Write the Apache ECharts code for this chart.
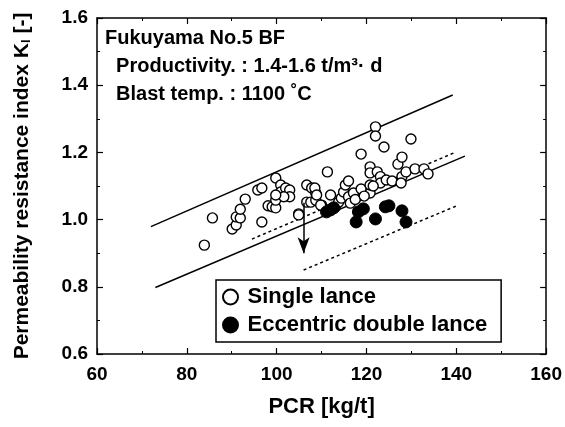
<!DOCTYPE html>
<html>
<head>
<meta charset="utf-8">
<script src="https://cdn.jsdelivr.net/npm/echarts@6/dist/echarts.min.js"></script>
<style>
html,body{margin:0;padding:0;background:#fff;}
#main{width:565px;height:427px;}
</style>
</head>
<body>
<div id="main"></div>
<script>
// 数据：PCR [kg/t] 与 透气阻力指数 Kl
var singleLance = [
  [83.9,0.924],[85.7,1.005],[90.1,0.972],[91.0,0.984],[91.0,1.008],[91.9,1.005],
  [91.9,1.031],[93.0,1.061],[95.8,1.088],[96.7,1.094],[96.7,0.993],[98.1,1.041],
  [99.0,1.038],[99.8,1.035],[99.8,1.058],[99.8,1.124],[100.9,1.103],[100.9,1.082],
  [102.0,1.094],[102.9,1.088],[102.9,1.068],[101.6,1.068],[99.8,1.073],[104.9,1.017],
  [106.7,1.103],[106.7,1.052],[107.8,1.094],[108.7,1.079],[107.6,1.052],[108.7,1.058],
  [110.0,1.043],[111.3,1.142],[108.5,1.094],[108.9,1.073],[109.8,1.043],[112.0,1.073],
  [113.1,1.038],[113.8,1.052],[114.4,1.064],[114.9,1.082],[115.3,1.103],[116.0,1.115],
  [116.0,1.068],[116.4,1.049],[117.1,1.079],[118.8,1.091],[120.8,1.079],[120.8,1.103],
  [118.8,1.195],[120.8,1.157],[120.8,1.139],[122.0,1.276],[122.0,1.249],[122.4,1.142],
  [123.1,1.128],[123.1,1.109],[123.9,1.216],[124.4,1.118],[125.7,1.115],[127.0,1.165],
  [127.9,1.186],[127.9,1.128],[127.7,1.109],[128.8,1.142],[129.9,1.240],[130.8,1.151],
  [132.8,1.151],[133.7,1.136],[117.5,1.060],[119.5,1.070],[121.5,1.100],[104.9,1.014]
];
var doubleLance = [
  [111.1,1.023],[112.0,1.029],[112.7,1.035],[118.2,1.023],[119.3,1.032],[117.7,0.993],
  [122.0,1.002],[124.2,1.038],[125.0,1.041],[127.9,1.026],[128.8,0.993]
];
// 界限线
var upperSolid = [[72,0.979],[139.2,1.371]];
var lowerSolid = [[73,0.798],[141.9,1.189]];
var upperDotted = [[94.5,0.942],[139.9,1.201]];
var lowerDotted = [[106,0.85],[139.9,1.04]];
var arrowFrom = [106,1.05];
var arrowTo = [106,0.90];

var xTicks = {min:60,max:160,interval:20};
var yTicks = {min:0.6,max:1.6,interval:0.2};

var myChart = echarts.init(document.getElementById('main'));
var font = '"Liberation Sans", Arial, sans-serif';

function axisBase(){
  return {
    axisLine:{show:true,lineStyle:{color:'#000',width:1.5}},
    axisTick:{show:true,inside:true,length:6,lineStyle:{color:'#000',width:1.2}},
    minorTick:{show:true,splitNumber:2,length:3,lineStyle:{color:'#000',width:1}},
    splitLine:{show:false},
    axisLabel:{show:false}
  };
}

var option = {
  backgroundColor:'#fff',
  animation:false,
  grid:{left:97,right:16,top:18,bottom:73},
  legend:{
    orient:'vertical',
    left:216, top:280,
    padding:[6,14,6,6],
    itemGap:6,
    itemWidth:16, itemHeight:15,
    borderColor:'#000', borderWidth:1.5,
    backgroundColor:'#fff',
    data:[{name:'Single lance',icon:'circle'},{name:'Eccentric double lance',icon:'circle'}],
    textStyle:{color:'#000',fontFamily:font,fontWeight:'bold',fontSize:22,padding:[0,0,0,4]}
  },
  graphic:[{
    type:'text', left:105, top:24,
    style:{
      text:'Fukuyama No.5 BF\n  Productivity. : 1.4-1.6 t/m\u00b3\u00b7 d\n  Blast temp. : 1100 \u02daC',
      font:'bold 20px '+font, fill:'#000', lineHeight:28
    }
  }],
  xAxis:[
    Object.assign({
      type:'value', min:xTicks.min, max:xTicks.max, interval:xTicks.interval,
      name:'PCR [kg/t]', nameLocation:'middle', nameGap:42,
      nameTextStyle:{color:'#000',fontFamily:font,fontWeight:'bold',fontSize:22}
    }, axisBase(), {axisLabel:{show:true,color:'#000',fontFamily:font,fontWeight:'bold',fontSize:19,margin:11}}),
    Object.assign({type:'value',position:'top',min:xTicks.min,max:xTicks.max,interval:xTicks.interval}, axisBase())
  ],
  yAxis:[
    Object.assign({
      type:'value', min:yTicks.min, max:yTicks.max, interval:yTicks.interval,
      name:'{a|Permeability resistance index K}{s|l}{a| [-]}', nameLocation:'middle', nameGap:64,
      nameTextStyle:{
        rich:{
          a:{color:'#000',fontFamily:font,fontWeight:'bold',fontSize:21},
          s:{color:'#000',fontFamily:font,fontWeight:'bold',fontSize:13,verticalAlign:'bottom',padding:[9,0,0,0]}
        }
      }
    }, axisBase(), {axisLabel:{show:true,color:'#000',fontFamily:font,fontWeight:'bold',fontSize:19,margin:9,formatter:function(v){return v.toFixed(1);}}}),
    Object.assign({type:'value',position:'right',min:yTicks.min,max:yTicks.max,interval:yTicks.interval}, axisBase())
  ],
  series:[
    {type:'line',data:upperSolid,showSymbol:false,symbol:'none',lineStyle:{color:'#000',width:1.5},silent:true},
    {type:'line',data:lowerSolid,showSymbol:false,symbol:'none',lineStyle:{color:'#000',width:1.5},silent:true},
    {type:'line',data:upperDotted,showSymbol:false,symbol:'none',lineStyle:{color:'#000',width:1.5,type:[3,3]},silent:true},
    {type:'line',data:lowerDotted,showSymbol:false,symbol:'none',lineStyle:{color:'#000',width:1.5,type:[3,3]},silent:true},
    {
      name:'Single lance', type:'scatter', data:singleLance, symbol:'circle', symbolSize:10, z:3,
      itemStyle:{color:'#fff',borderColor:'#000',borderWidth:1.4, opacity:1},
      markLine:{
        silent:true, symbol:['none','arrow'], symbolSize:[9,16],
        label:{show:false},
        lineStyle:{color:'#000',width:1.5,type:'solid'},
        data:[[{coord:arrowFrom},{coord:arrowTo}]]
      }
    },
    {
      name:'Eccentric double lance', type:'scatter', data:doubleLance, symbol:'circle', symbolSize:12, z:4,
      itemStyle:{color:'#000',borderColor:'#000',borderWidth:1,opacity:1}
    }
  ]
};
myChart.setOption(option);
</script>
</body>
</html>
